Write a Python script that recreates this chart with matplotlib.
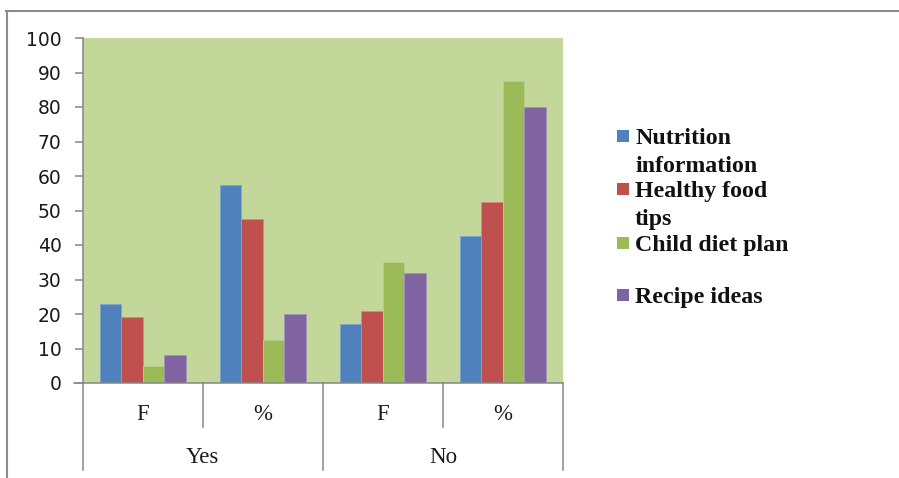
import matplotlib.pyplot as plt
import numpy as np
from matplotlib.lines import Line2D
from matplotlib.patches import Rectangle

# survey answers: frequency (F) and percentage for each answer group
groups = ["Yes", "No"]
sub_labels = ["F", "%", "F", "%"]
series = ["Nutrition information", "Healthy food tips", "Child diet plan", "Recipe ideas"]
nutrition = [23, 57.5, 17, 42.5]
healthy_food = [19, 47.5, 21, 52.5]
child_diet = [5, 12.5, 35, 87.5]
recipe = [8, 20, 32, 80]

colors = ["#4F81BD", "#C0504D", "#9BBB59", "#8064A2"]
edges = ["#7FA3D3", "#D58886", "#B9D08C", "#A592BF"]
legend_lines = [["Nutrition", "information"], ["Healthy food", "tips"],
                ["Child diet plan"], ["Recipe ideas"]]

W, H = 899, 478
fig = plt.figure(figsize=(W / 100, H / 100), dpi=100)
fig.patch.set_facecolor("white")

# plot area placed in pixel units
ax = fig.add_axes([82.5 / W, 95 / H, (563 - 82.5) / W, 345 / H])
ax.set_facecolor("#C4D79B")

x = np.arange(len(sub_labels))
width = 0.179
values = [nutrition, healthy_food, child_diet, recipe]
for i, vals in enumerate(values):
    ax.bar(x + (i - 1.5) * width, vals, width=width, color=colors[i],
           edgecolor=edges[i], linewidth=0.6, label=series[i], zorder=2)

ax.set_xlim(-0.5, 3.5)
ax.set_ylim(0, 100)
ax.set_yticks(range(0, 101, 10))
ax.set_xticks([])
ax.tick_params(axis="y", direction="out", length=6, width=1.1, color="#868686",
               pad=9, labelsize=13.5, labelcolor="#1a1a1a")
for s in ["top", "right"]:
    ax.spines[s].set_visible(False)
for s in ["left", "bottom"]:
    ax.spines[s].set_color("#868686")
    ax.spines[s].set_linewidth(1.1)
    ax.spines[s].set_zorder(3)

# extend the category axis line to the left tick
ax.plot([-0.5 - 8.5 / 120, -0.5], [0, 0], color="#868686", lw=1.1, clip_on=False)

# two-level category labels with divider lines
trans = ax.get_xaxis_transform()
ax_h = 345.0
for b in [-0.5, 0.5, 1.5, 2.5, 3.5]:
    depth = 87 if b in (-0.5, 1.5, 3.5) else 44
    ax.plot([b, b], [0, -depth / ax_h], color="#868686", lw=1.1,
            transform=trans, clip_on=False)
for xi, lab in zip(x, sub_labels):
    ax.text(xi, -37.5 / ax_h, lab, transform=trans, ha="center", va="baseline",
            fontsize=16.5, family="Liberation Serif", color="#1a1a1a")
for gi, g in enumerate(groups):
    ax.text(2 * gi + 0.5, -80 / ax_h, g, transform=trans, ha="center", va="baseline",
            fontsize=16.5, family="Liberation Serif", color="#1a1a1a")

# legend drawn entry by entry at the right of the plot
baselines = [144, 197, 251, 303]
for i, lines in enumerate(legend_lines):
    yb = baselines[i]
    fig.add_artist(Rectangle((617 / W, 1 - (yb - 2) / H), 12 / W, 12 / H,
                             transform=fig.transFigure, facecolor=colors[i],
                             edgecolor="none"))
    for k, t in enumerate(lines):
        fig.text(635 / W, 1 - (yb + 27.5 * k) / H, t, ha="left", va="baseline",
                 fontsize=17.2, fontweight="bold", family="Liberation Serif",
                 color="#111111")

# outer chart frame
fig.add_artist(Line2D([6 / W, 1], [1 - 11 / H, 1 - 11 / H], color="#8c8c8c",
                      lw=1.5, transform=fig.transFigure))
fig.add_artist(Line2D([7 / W, 7 / W], [0, 1 - 11 / H], color="#8c8c8c",
                      lw=1.5, transform=fig.transFigure))

fig.savefig("out.png", dpi=100)
